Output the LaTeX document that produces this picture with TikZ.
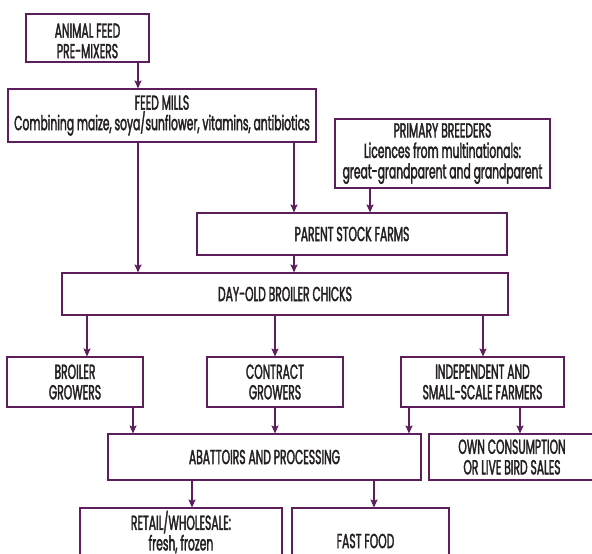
\documentclass[tikz,border=0pt]{standalone}
\usepackage{fontspec}
\setmainfont{Poppins}[FakeStretch=0.53,FakeBold=1.8]
\usetikzlibrary{arrows.meta}
\definecolor{frame}{RGB}{94,30,94}
\definecolor{ink}{RGB}{35,31,32}
\tikzset{
  box/.style={draw=frame, line width=2pt, rectangle, inner sep=0pt,
    align=center, text=ink, font=\fontsize{20.3}{20.5}\selectfont},
  arr/.style={draw=frame, line width=1.8pt,
    -{Stealth[width=7pt,length=8pt,inset=1.5pt]}, shorten >=-0.5pt},
}
% pushes a block of lines down by half the given amount
\newcommand{\lowerby}[1]{\raisebox{#1}{\vphantom{A}}}
\begin{document}
\begin{tikzpicture}[x=1pt,y=-1pt]
\useasboundingbox (0,0) rectangle (592,554);
\clip (0,0) rectangle (592,554);
\fill[white] (0,0) rectangle (592,554);

% supply chain boxes
\node[box, minimum width=123pt, minimum height=48pt] (premix) at (87.5,38)
  {\lowerby{6pt}ANIMAL FEED\\PRE-MIXERS};
\node[box, minimum width=308pt, minimum height=53pt] (mills) at (162,115.5)
  {FEED MILLS\\Combining maize, soya/sunflower, vitamins, antibiotics};
\node[box, minimum width=215pt, minimum height=69pt] (breeders) at (442.5,153.5)
  {PRIMARY BREEDERS\\Licences from multinationals:\\great-grandparent and grandparent};
\node[box, minimum width=310pt, minimum height=42pt] (parent) at (352,234)
  {PARENT STOCK FARMS};
\node[box, minimum width=446pt, minimum height=42pt] (chicks) at (285,294)
  {DAY-OLD BROILER CHICKS};
\node[box, minimum width=136pt, minimum height=50pt] (broiler) at (75,382)
  {BROILER\\GROWERS};
\node[box, minimum width=136pt, minimum height=50pt] (contract) at (275,382)
  {CONTRACT\\GROWERS};
\node[box, minimum width=163pt, minimum height=50pt] (indep) at (482.5,382)
  {INDEPENDENT AND\\SMALL-SCALE FARMERS};
\node[box, minimum width=313pt, minimum height=46pt] (abattoir) at (264.5,457)
  {ABATTOIRS AND PROCESSING};
\node[box, minimum width=166pt, minimum height=46pt] (own) at (512,457)
  {OWN CONSUMPTION\\OR LIVE BIRD SALES};
\node[box, minimum width=202pt, minimum height=48pt] (retail) at (181,532)
  {RETAIL/WHOLESALE:\\fresh, frozen};
\node[box, minimum width=157pt, minimum height=66pt] (fastfood) at (370.5,541)
  {\hspace*{-10pt}FAST FOOD};

% flows
\draw[arr] (premix.south -| 138,0) -- (mills.north -| 138,0);
\draw[arr] (mills.south -| 138,0) -- (chicks.north -| 138,0);
\draw[arr] (mills.south -| 294,0) -- (parent.north -| 294,0);
\draw[arr] (breeders.south -| 370,0) -- (parent.north -| 370,0);
\draw[arr] (parent.south -| 294,0) -- (chicks.north -| 294,0);
\draw[arr] (chicks.south -| 87,0) -- (broiler.north -| 87,0);
\draw[arr] (chicks.south -| 275,0) -- (contract.north -| 275,0);
\draw[arr] (chicks.south -| 483,0) -- (indep.north -| 483,0);
\draw[arr] (broiler.south -| 133,0) -- (abattoir.north -| 133,0);
\draw[arr] (contract.south -| 275,0) -- (abattoir.north -| 275,0);
\draw[arr] (indep.south -| 409,0) -- (abattoir.north -| 409,0);
\draw[arr] (indep.south -| 520,0) -- (own.north -| 520,0);
\draw[arr] (abattoir.south -| 192,0) -- (retail.north -| 192,0);
\draw[arr] (abattoir.south -| 374,0) -- (fastfood.north -| 374,0);
\end{tikzpicture}
\end{document}
